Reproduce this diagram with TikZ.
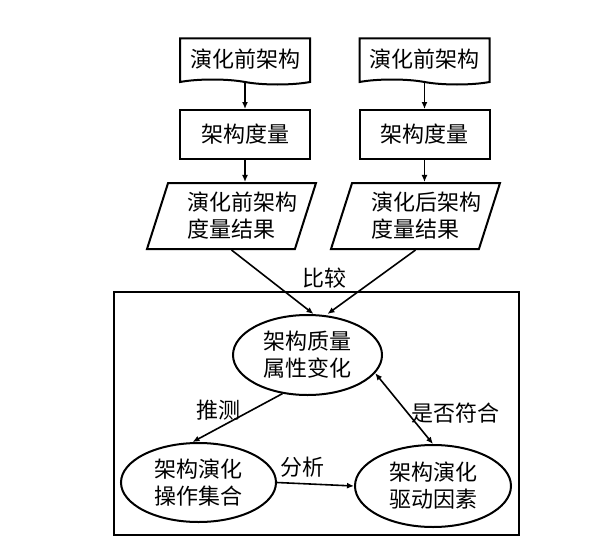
\documentclass[tikz,border=0pt]{standalone}
\usepackage{fontspec}
\newfontfamily\cjk{Noto Sans CJK SC}
\usetikzlibrary{arrows.meta,shapes.geometric,shapes.symbols}
\newcommand{\ioline}[1]{\makebox[110pt][l]{\hspace*{11pt}#1}}

\begin{document}
\begin{tikzpicture}[x=1pt,y=-1pt,
		every node/.style={font=\cjk\fontsize{22}{27}\selectfont},
		docshape/.style={draw,line width=2pt,shape=tape,tape bend top=none,tape bend bottom=out and in,tape bend height=5pt,minimum width=130pt,minimum height=46pt,inner sep=0pt},
		procbox/.style={draw,line width=2pt,minimum width=130pt,minimum height=49pt,inner sep=0pt},
		iobox/.style={draw,line width=2pt,shape=trapezium,trapezium left angle=66,trapezium right angle=114,trapezium stretches body,minimum width=169pt,minimum height=66pt,inner sep=0pt,align=left},
		stateell/.style={draw,line width=2pt,shape=ellipse,inner sep=0pt,align=center},
		arr/.style={line width=1.6pt,-{Latex[length=7pt,width=6pt]}}]
		%%%%% START %%%%%
		\useasboundingbox (0,0) rectangle (594,551);
		
		\node[docshape] (docl) at (245, 59) {演化前架构};
		\node[docshape] (docr) at (424.5, 59) {演化前架构};
		
		\node[procbox] (meal) at (245, 134.5) {架构度量};
		\node[procbox] (mear) at (424.5, 134.5) {架构度量};
		
		\node[iobox] (resl) at (231.5, 216) {\ioline{演化前架构}\\\ioline{度量结果}};
		\node[iobox] (resr) at (415.5, 216) {\ioline{演化后架构}\\\ioline{度量结果}};
		
		\draw[line width=2pt] (114, 292) rectangle (519, 535);
		
		\node[stateell,minimum width=149pt,minimum height=80pt] (qual) at (307.5, 355) {架构质量\\属性变化};
		\node[stateell,minimum width=155pt,minimum height=79pt] (oper) at (198.5, 482.5) {架构演化\\操作集合};
		\node[stateell,minimum width=156pt,minimum height=82pt] (driv) at (433, 486) {架构演化\\驱动因素};
		
		\node (cmp) at (324, 278) {比较};
		\node (pred) at (218, 410) {推测};
		\node (chk) at (455, 413) {是否符合};
		\node (ana) at (302, 467) {分析};
		
		\draw[arr] (docl.south) -- (meal.north);
		\draw[arr] (docr.south) -- (mear.north);
		\draw[arr] (meal.south) -- (meal.south |- resl.north);
		\draw[arr] (mear.south) -- (mear.south |- resr.north);
		
		\draw[arr] (resl.south) -- ([xshift=6pt]qual.north);
		\draw[arr] (resr.south) -- ([xshift=20pt]qual.north);
		
		\draw[arr] (qual.237) -- ([xshift=-6pt]oper.north);
		\draw[arr,{Latex[length=7pt,width=6pt]}-{Latex[length=7pt,width=6pt]}] (qual.-15) -- (driv.north);
		\draw[arr] (oper.east) -- (driv.west);
		%%%%% END %%%%%
\end{tikzpicture}
\end{document}
